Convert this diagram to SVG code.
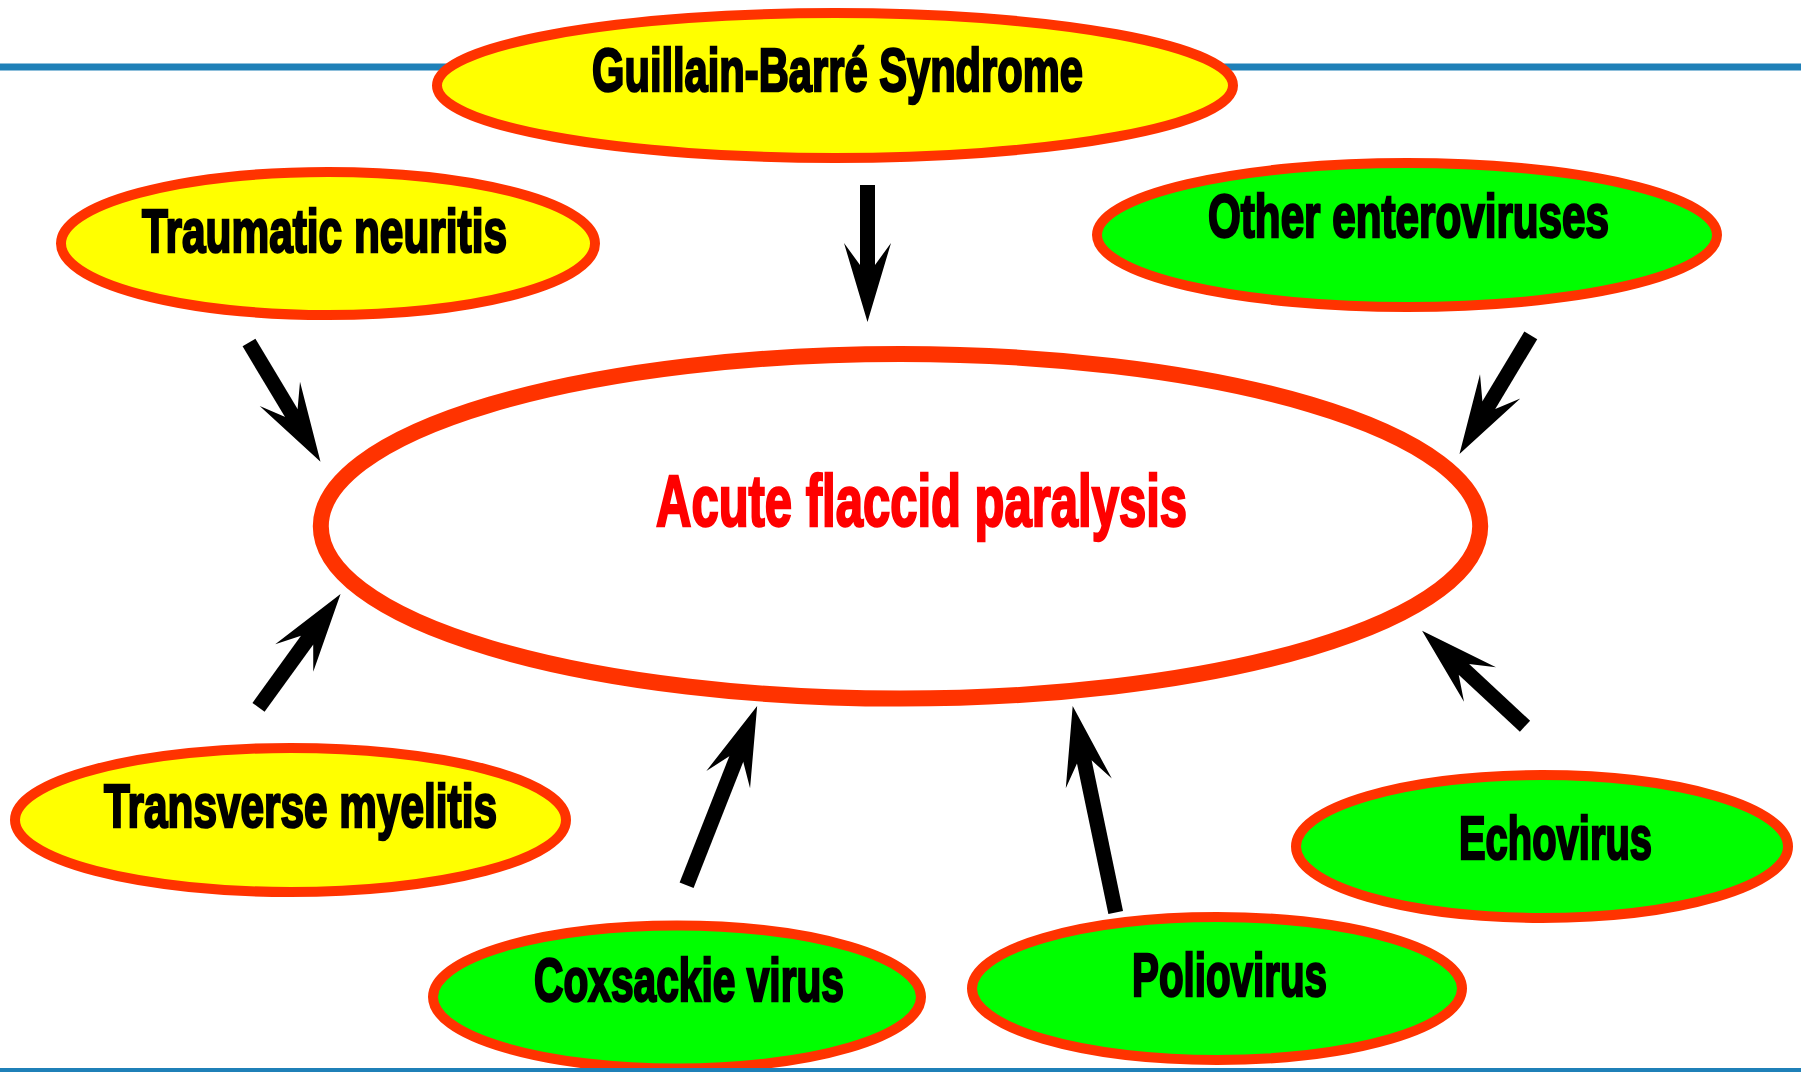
<svg xmlns="http://www.w3.org/2000/svg" width="1801" height="1072" viewBox="0 0 1801 1072">
<style>
.node{stroke:#FF3300;stroke-width:10}
.yel{fill:#FFFF00}
.grn{fill:#00FF00}
.lbl{font-family:"Liberation Sans",Arial,sans-serif;font-weight:bold;font-size:62px;fill:#000;stroke:#000;stroke-width:2.5;stroke-linejoin:miter}
.main{font-family:"Liberation Sans",Arial,sans-serif;font-weight:bold;font-size:73px;fill:#FF0000;stroke:#FF0000;stroke-width:2.5}
.rule{stroke:#1F80B8}
.conn line{stroke:#000;stroke-width:15;marker-end:url(#head)}
</style>
<defs>
<marker id="head" markerUnits="userSpaceOnUse" markerWidth="80" markerHeight="48" refX="24" refY="24" orient="auto" overflow="visible">
<path d="M0,0.5 L79,24 L0,47.5 L22,31.5 L22,16.5 Z" fill="#000"/>
</marker>
</defs>
<rect width="1801" height="1072" fill="#fff"/>
<line class="rule" x1="0" y1="67" x2="1801" y2="67" stroke-width="7"/>

<g id="afp">
<ellipse cx="900.5" cy="526.3" rx="579.7" ry="172.3" fill="#fff" stroke="#FF3300" stroke-width="16"/>
<text class="main" x="656" y="526" textLength="531" lengthAdjust="spacingAndGlyphs">Acute flaccid paralysis</text>
</g>
<g id="gbs">
<ellipse class="node yel" cx="835" cy="85.5" rx="398" ry="72.5"/>
<text class="lbl" x="592" y="91" textLength="491" lengthAdjust="spacingAndGlyphs">Guillain-Barré Syndrome</text>
</g>
<g id="traumatic">
<ellipse class="node yel" cx="328" cy="243.5" rx="267" ry="71.5"/>
<text class="lbl" x="142" y="252" textLength="365" lengthAdjust="spacingAndGlyphs">Traumatic neuritis</text>
</g>
<g id="enteroviruses">
<ellipse class="node grn" cx="1407" cy="235" rx="310" ry="72"/>
<text class="lbl" x="1208" y="237" textLength="401" lengthAdjust="spacingAndGlyphs">Other enteroviruses</text>
</g>
<g id="transverse">
<ellipse class="node yel" cx="290.5" cy="820" rx="275.5" ry="72"/>
<text class="lbl" x="104" y="827" textLength="393" lengthAdjust="spacingAndGlyphs">Transverse myelitis</text>
</g>
<g id="coxsackie">
<ellipse class="node grn" cx="677" cy="997" rx="244" ry="71.5"/>
<text class="lbl" x="534" y="1001" textLength="310" lengthAdjust="spacingAndGlyphs">Coxsackie virus</text>
</g>
<g id="polio">
<ellipse class="node grn" cx="1217" cy="988.5" rx="245" ry="71.5"/>
<text class="lbl" x="1132" y="996" textLength="195" lengthAdjust="spacingAndGlyphs">Poliovirus</text>
</g>
<g id="echo">
<ellipse class="node grn" cx="1542" cy="846.5" rx="246" ry="71.5"/>
<text class="lbl" x="1459" y="859" textLength="193" lengthAdjust="spacingAndGlyphs">Echovirus</text>
</g>

<g id="connectors" class="conn">
<line x1="867.5" y1="185" x2="867.5" y2="267"/>
<line x1="249" y1="342.5" x2="292.2" y2="414.5"/>
<line x1="1530.8" y1="335.3" x2="1487.8" y2="406.9"/>
<line x1="1525" y1="726.2" x2="1462.4" y2="668.1"/>
<line x1="1115.7" y1="912.5" x2="1083.9" y2="759.9"/>
<line x1="686.6" y1="885.2" x2="737" y2="757.2"/>
<line x1="258.5" y1="707.3" x2="308.3" y2="638.5"/>
</g>

<line class="rule" x1="0" y1="1070" x2="1801" y2="1070" stroke-width="4"/>
</svg>
